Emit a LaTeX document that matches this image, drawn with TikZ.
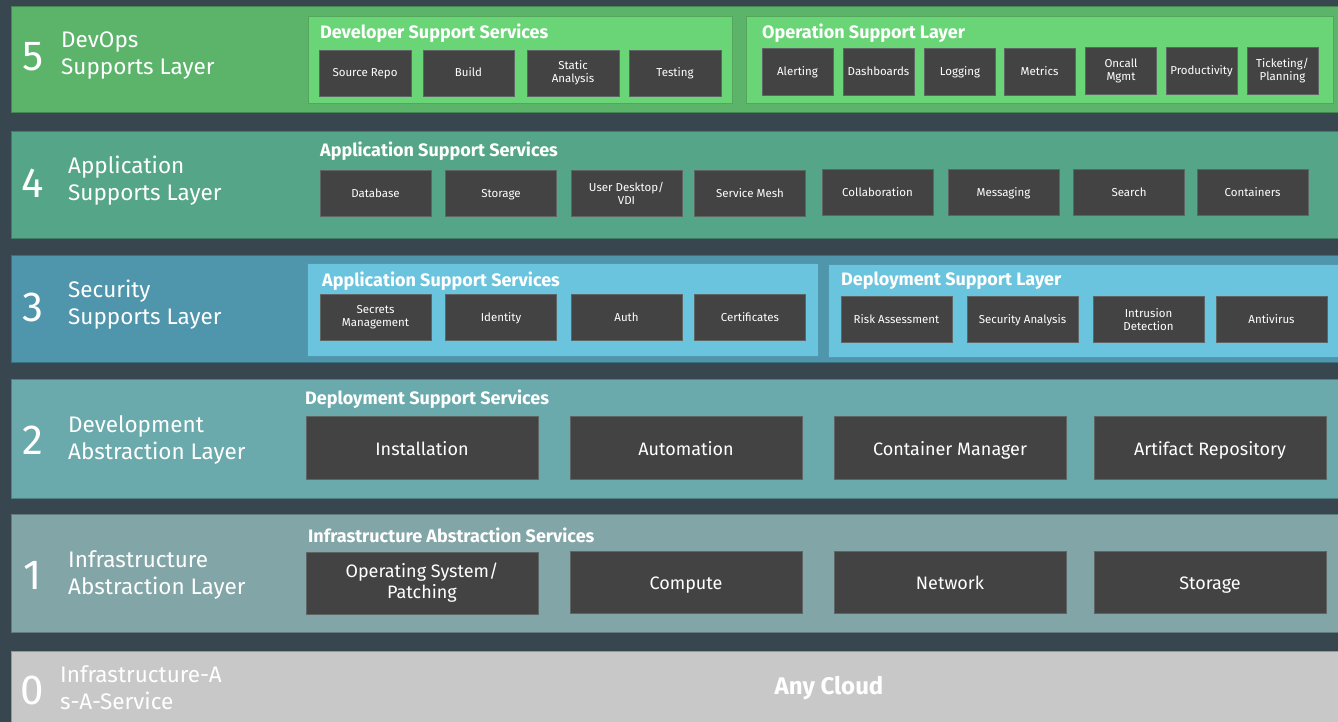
\documentclass[tikz,border=0pt]{standalone}
\usepackage{fontspec}
\setmainfont{Fira Sans}
\definecolor{bgc}{RGB}{56,71,79}
\definecolor{lfive}{RGB}{92,180,107}
\definecolor{pfive}{RGB}{106,213,118}
\definecolor{lfour}{RGB}{85,166,136}
\definecolor{lthree}{RGB}{79,149,171}
\definecolor{pthree}{RGB}{107,196,222}
\definecolor{ltwo}{RGB}{106,170,172}
\definecolor{lone}{RGB}{130,165,168}
\definecolor{lzero}{RGB}{200,200,200}
\definecolor{boxfill}{RGB}{67,67,67}
\definecolor{boxline}{RGB}{95,100,100}
\tikzset{
  band/.style={draw=black!25!#1, line width=1pt},
  panel/.style={draw=black!22!#1, fill=#1, line width=1pt},
  svc/.style={draw=boxline, fill=boxfill, text=white, align=center, inner sep=0pt,
    font=\fontsize{11.5}{13}\selectfont, line width=0.8pt},
  small/.style={svc, minimum height=46},
  one/.style={text height=10, text depth=2},
  big/.style={svc, minimum width=232, font=\fontsize{18}{21}\selectfont},
  bone/.style={text height=17, text depth=2},
  num/.style={text=white, font=\fontsize{42}{44}\selectfont, inner sep=0pt},
  lname/.style={text=white, font=\fontsize{22.5}{27}\selectfont, align=left, anchor=west, inner sep=0pt},
  ttl/.style={text=white, font=\bfseries\fontsize{18}{20}\selectfont, anchor=west, inner sep=0pt},
}
\begin{document}
\begin{tikzpicture}[x=1pt,y=-1pt]
\useasboundingbox (0,0) rectangle (1338,722);
\fill[bgc] (0,0) rectangle (1338,722);
% bands
\filldraw[band=lfive, fill=lfive] (11,6.5) rectangle (1345,113);
\filldraw[band=lfour, fill=lfour] (11,131.5) rectangle (1345,238);
\filldraw[band=lthree, fill=lthree] (11,255.5) rectangle (1345,362);
\filldraw[band=ltwo, fill=ltwo] (11,379.5) rectangle (1345,498);
\filldraw[band=lone, fill=lone] (11,514.5) rectangle (1345,632);
\filldraw[band=lzero, fill=lzero] (11,651) rectangle (1345,730);

% layer 5
\node[num] (n5) at (33,57) {5};
\node[lname] (t5) at (61,56) {DevOps\\Supports Layer};
\draw[panel=pfive] (308,16.5) rectangle (732,104);
\node[ttl] (dss) at (320,33) {Developer Support Services};
\node[small, one, minimum width=92] (src) at (365,73) {Source Repo};
\node[small, one, minimum width=91] (bld) at (468.5,73) {Build};
\node[small, minimum width=92] (sta) at (573,73) {Static\\Analysis};
\node[small, one, minimum width=92] (tst) at (675,73) {Testing};
\draw[panel=pfive] (746,16.5) rectangle (1333,104);
\node[ttl] (osl) at (762,33) {Operation Support Layer};
\node[small, one, minimum width=71, minimum height=47] (alr) at (797.5,71.5) {Alerting};
\node[small, one, minimum width=71, minimum height=47] (dsh) at (878.5,71.5) {Dashboards};
\node[small, one, minimum width=71, minimum height=47] (log) at (960,71.5) {Logging};
\node[small, one, minimum width=71, minimum height=47] (met) at (1039.5,71.5) {Metrics};
\node[small, minimum width=71, minimum height=47] (onc) at (1121,71) {Oncall\\Mgmt};
\node[small, one, minimum width=71, minimum height=47] (prd) at (1201.5,71) {Productivity};
\node[small, minimum width=71, minimum height=47] (tkt) at (1282.5,71) {Ticketing/\\Planning};

% layer 4
\node[num] (n4) at (33,183) {4};
\node[lname] (t4) at (68,181) {Application\\Supports Layer};
\node[ttl] (ass4) at (320,151) {Application Support Services};
\node[small, one, minimum width=111] (db) at (375.5,193) {Database};
\node[small, one, minimum width=111] (sto4) at (501,193) {Storage};
\node[small, minimum width=111] (vdi) at (626.5,193) {User Desktop/\\VDI};
\node[small, one, minimum width=111] (msh) at (750,193) {Service Mesh};
\node[small, one, minimum width=111] (col) at (877.5,192.5) {Collaboration};
\node[small, one, minimum width=111] (msg) at (1003.5,192.5) {Messaging};
\node[small, one, minimum width=111] (sea) at (1129,192.5) {Search};
\node[small, one, minimum width=111] (cnt) at (1252.5,192.5) {Containers};

% layer 3
\node[num] (n3) at (33,307) {3};
\node[lname] (t3) at (68,304.5) {Security\\Supports Layer};
\draw[panel=pthree] (307,263) rectangle (818,356);
\node[ttl] (ass3) at (322,281) {Application Support Services};
\node[small, minimum width=111] (sec) at (375.5,317) {Secrets\\Management};
\node[small, one, minimum width=111] (idn) at (501,317) {Identity};
\node[small, one, minimum width=111] (aut) at (626.5,317) {Auth};
\node[small, one, minimum width=111] (crt) at (750,317) {Certificates};
\draw[panel=pthree] (828.5,264) rectangle (1345,357);
\node[ttl] (dsl) at (841,281) {Deployment Support Layer};
\node[small, one, minimum width=111] (rsk) at (896.5,319.5) {Risk Assessment};
\node[small, one, minimum width=111] (san) at (1022.5,319.5) {Security Analysis};
\node[small, minimum width=111] (ids) at (1148.5,319.5) {Intrusion\\Detection};
\node[small, one, minimum width=111] (av) at (1271.5,319.5) {Antivirus};

% layer 2
\node[num] (n2) at (33,440) {2};
\node[lname] (t2) at (68,440) {Development\\Abstraction Layer};
\node[ttl] (dss2) at (305,399) {Deployment Support Services};
\node[big, bone, minimum height=63] (ins) at (422,447.5) {Installation};
\node[big, bone, minimum height=63] (aut2) at (686,447.5) {Automation};
\node[big, bone, minimum height=63] (cm) at (950,447.5) {Container Manager};
\node[big, bone, minimum height=63] (ar) at (1210,447.5) {Artifact Repository};

% layer 1
\node[num] (n1) at (33,575) {1};
\node[lname] (t1) at (68,575) {Infrastructure\\Abstraction Layer};
\node[ttl] (ias) at (308,535.5) {Infrastructure Abstraction Services};
\node[big, minimum height=62] (os) at (422,583) {Operating System/\\Patching};
\node[big, bone, minimum height=62] (cmp) at (686,582) {Compute};
\node[big, bone, minimum height=62] (net) at (950,582) {Network};
\node[big, bone, minimum height=62] (sto1) at (1210,582) {Storage};

% layer 0
\node[num] (n0) at (32,690) {0};
\node[lname] (t0) at (60,688) {Infrastructure-A\\s-A-Service};
\node[text=white, font=\bfseries\fontsize{24}{26}\selectfont, inner sep=0pt] (any) at (829,688) {Any Cloud};
\end{tikzpicture}
\end{document}
